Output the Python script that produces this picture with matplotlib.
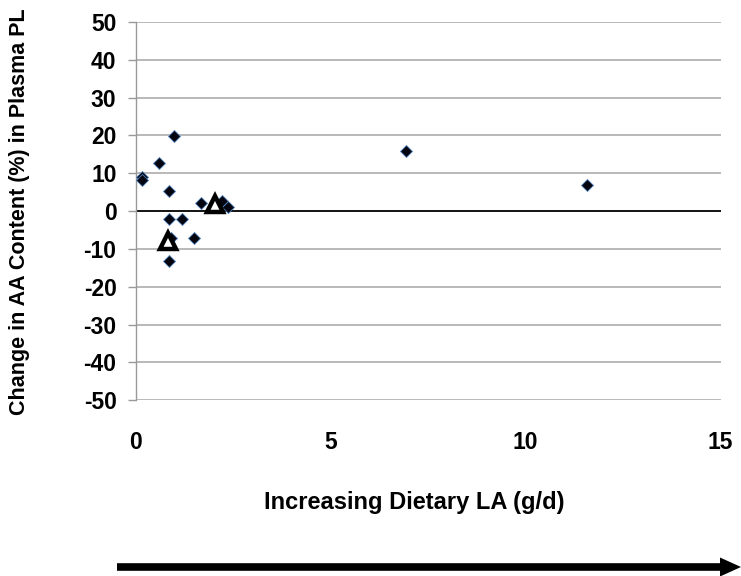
import matplotlib
matplotlib.use("Agg")
import matplotlib.pyplot as plt
from matplotlib.lines import Line2D
from matplotlib.patches import Polygon

plt.rcParams['font.family'] = ['Liberation Sans', 'DejaVu Sans']
plt.rcParams['font.weight'] = 'bold'
plt.rcParams['axes.unicode_minus'] = False

# study points (diamonds)
la_intake = [0.97, 0.59, 0.15, 0.16, 0.86, 1.66, 2.21, 2.36, 0.86, 1.19, 0.91, 1.49, 0.86, 6.92, 11.57]
aa_change = [19.8, 12.6, 9.0, 8.2, 5.2, 2.2, 2.8, 1.0, -2.2, -2.2, -7.2, -7.0, -13.2, 15.8, 7.0]
# group means (triangles)
mean_la = [0.82, 2.02]
mean_aa = [-7.8, 1.8]

yticks = list(range(-50, 51, 10))
xticks = [0, 5, 10, 15]

fig = plt.figure(figsize=(7.41, 5.76), dpi=100)
ax = fig.add_axes([0.1835, 0.305, 0.789, 0.657])

for yv in yticks:
    if yv != 0:
        ax.axhline(yv, color='#b3b3b3', linewidth=1.3, zorder=1)
ax.axhline(0, color='black', linewidth=1.3, zorder=2)

ax.plot(la_intake, aa_change, linestyle='none', marker='D', markersize=6.5,
        markerfacecolor='#05050f', markeredgecolor='#4f81bd', markeredgewidth=0.6, zorder=3)
ax.plot(mean_la, mean_aa, linestyle='none', marker='^', markersize=12,
        markerfacecolor='white', markeredgecolor='black', markeredgewidth=3.2, zorder=4)

ax.set_xlim(0, 15)
ax.set_ylim(-50, 50)
ax.set_xticks(xticks)
ax.set_yticks(yticks)
for s in ['top', 'right', 'bottom']:
    ax.spines[s].set_visible(False)
ax.spines['left'].set_color('#999999')
ax.spines['left'].set_linewidth(1.0)
ax.tick_params(axis='y', length=6, color='#999999', width=1.0, pad=8, labelsize=16.5)
ax.tick_params(axis='x', length=0, pad=22, labelsize=16.5)

ax.set_xlabel('Increasing Dietary LA (g/d)', fontsize=17, fontweight='bold')
ax.xaxis.set_label_coords(0.476, -0.269)
ax.xaxis.label.set_va('center')
ax.set_ylabel('Change in AA Content (%) in Plasma PL', fontsize=15.5, fontweight='bold')
ax.yaxis.set_label_coords(-0.199, 0.499)
ax.yaxis.label.set_va('center')

# arrow below the chart
ay = 1 - 567 / 576
fig.add_artist(Line2D([117 / 741, 722 / 741], [ay, ay], transform=fig.transFigure,
                      color='black', linewidth=5.5, solid_capstyle='butt'))
fig.add_artist(Polygon([[720 / 741, ay + 9.5 / 576], [741 / 741, ay], [720 / 741, ay - 9.5 / 576]],
                       closed=True, transform=fig.transFigure, facecolor='black', edgecolor='none'))

fig.savefig('out.png', dpi=100)
